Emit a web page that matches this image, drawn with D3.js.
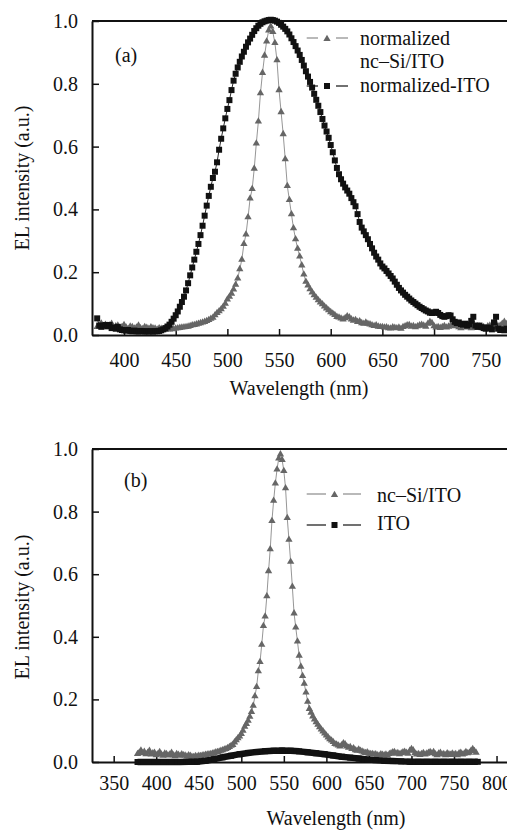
<!DOCTYPE html>
<html>
<head>
<meta charset="utf-8">
<script src="https://cdn.jsdelivr.net/npm/d3@7"></script>
<style>
body{margin:0;background:#fff}
svg text{font-family:"Liberation Serif","Tinos","Times New Roman","DejaVu Serif","Noto Serif",serif;fill:#111}
</style>
</head>
<body>
<svg id="chart" width="507" height="831"></svg>
<script>
// wavelength grid
var wavelengthA = [374,376,378,380,382,384,386,388,390,392,394,396,398,
  400,402,404,406,408,410,412,414,416,418,420,422,424,426,428,430,432,434,436,438,440,442,444,446,448,
  450,452,454,456,458,460,462,464,466,468,470,472,474,476,478,480,482,484,486,488,490,492,494,496,498,
  500,502,504,506,508,510,512,514,516,518,520,522,524,526,528,530,532,534,536,538,540,542,544,546,548,
  550,552,554,556,558,560,562,564,566,568,570,572,574,576,578,580,582,584,586,588,590,592,594,596,598,
  600,602,604,606,608,610,612,614,616,618,620,622,624,626,628,630,632,634,636,638,640,642,644,646,648,
  650,652,654,656,658,660,662,664,666,668,670,672,674,676,678,680,682,684,686,688,690,692,694,696,698,
  700,702,704,706,708,710,712,714,716,718,720,722,724,726,728,730,732,734,736,738,740,742,744,746,748,
  750,752,754,756,758,760,762,764,766,768,770,772];
// same spectrum
var wavelengthB = [378,380,382,384,386,388,390,392,394,396,398,
  400,402,404,406,408,410,412,414,416,418,420,422,424,426,428,430,432,434,436,438,440,442,444,446,448,
  450,452,454,456,458,460,462,464,466,468,470,472,474,476,478,480,482,484,486,488,490,492,494,496,498,
  500,502,504,506,508,510,512,514,516,518,520,522,524,526,528,530,532,534,536,538,540,542,544,546,548,
  550,552,554,556,558,560,562,564,566,568,570,572,574,576,578,580,582,584,586,588,590,592,594,596,598,
  600,602,604,606,608,610,612,614,616,618,620,622,624,626,628,630,632,634,636,638,640,642,644,646,648,
  650,652,654,656,658,660,662,664,666,668,670,672,674,676,678,680,682,684,686,688,690,692,694,696,698,
  700,702,704,706,708,710,712,714,716,718,720,722,724,726,728,730,732,734,736,738,740,742,744,746,748,
  750,752,754,756,758,760,762,764,766,768,770,772,774,776];

var ncSi = [0.026,0.030,0.037,0.028,0.033,0.025,0.030,0.036,0.024,0.028,0.030,0.022,0.026,
  0.032,0.024,0.020,0.027,0.026,0.021,0.024,0.030,0.022,0.019,0.026,0.023,0.020,0.025,0.022,0.021,0.018,0.022,0.020,0.017,0.016,0.019,0.018,0.020,0.019,
  0.021,0.022,0.023,0.024,0.025,0.026,0.027,0.029,0.031,0.032,0.034,0.036,0.038,0.040,0.042,0.045,0.048,0.052,0.055,0.063,0.070,0.076,0.082,0.090,0.100,
  0.113,0.122,0.132,0.145,0.160,0.180,0.210,0.240,0.290,0.320,0.375,0.435,0.465,0.530,0.610,0.680,0.770,0.835,0.890,0.935,0.970,0.983,0.965,0.930,0.875,
  0.780,0.710,0.640,0.560,0.475,0.430,0.385,0.340,0.305,0.275,0.250,0.222,0.193,0.170,0.158,0.146,0.136,0.127,0.119,0.111,0.104,0.098,0.091,0.085,0.079,
  0.073,0.069,0.064,0.058,0.056,0.053,0.050,0.054,0.060,0.057,0.050,0.046,0.048,0.042,0.044,0.038,0.036,0.040,0.036,0.034,0.031,0.029,0.031,0.027,0.026,
  0.026,0.024,0.025,0.022,0.021,0.025,0.023,0.022,0.024,0.020,0.026,0.028,0.031,0.032,0.027,0.029,0.025,0.028,0.031,0.033,0.030,0.027,0.036,0.042,0.038,
  0.028,0.024,0.026,0.023,0.026,0.029,0.024,0.027,0.030,0.032,0.028,0.032,0.025,0.022,0.027,0.030,0.024,0.026,0.022,0.028,0.025,0.023,0.027,0.024,0.026,
  0.022,0.028,0.030,0.024,0.027,0.032,0.028,0.030,0.036,0.042,0.035,0.030];

var itoNormalized = [0.053,0.030,0.026,0.030,0.032,0.028,0.032,0.022,0.024,0.020,0.026,0.018,0.016,
  0.015,0.014,0.016,0.013,0.012,0.014,0.012,0.011,0.013,0.012,0.011,0.012,0.011,0.012,0.011,0.012,0.012,0.013,0.015,0.018,0.022,0.027,0.033,0.042,0.052,
  0.063,0.075,0.090,0.105,0.122,0.142,0.165,0.190,0.215,0.240,0.265,0.290,0.318,0.348,0.380,0.412,0.443,0.472,0.500,0.520,0.550,0.590,0.625,0.658,0.690,
  0.720,0.748,0.780,0.810,0.832,0.852,0.870,0.887,0.902,0.918,0.932,0.944,0.956,0.968,0.977,0.985,0.991,0.996,0.999,1.001,1.003,1.004,1.003,1.001,0.998,
  0.994,0.988,0.982,0.975,0.967,0.957,0.945,0.933,0.920,0.906,0.892,0.876,0.858,0.840,0.823,0.806,0.788,0.768,0.749,0.730,0.710,0.688,0.667,0.648,0.628,
  0.605,0.582,0.556,0.532,0.512,0.496,0.482,0.470,0.460,0.450,0.436,0.423,0.410,0.385,0.360,0.342,0.330,0.318,0.305,0.290,0.276,0.262,0.250,0.240,0.228,
  0.218,0.212,0.204,0.196,0.188,0.180,0.170,0.160,0.150,0.142,0.135,0.128,0.122,0.116,0.110,0.105,0.100,0.095,0.090,0.086,0.082,0.078,0.075,0.071,0.070,
  0.072,0.074,0.070,0.064,0.060,0.058,0.060,0.063,0.062,0.050,0.042,0.038,0.040,0.035,0.033,0.036,0.030,0.034,0.045,0.058,0.030,0.026,0.030,0.025,0.022,
  0.020,0.024,0.022,0.018,0.040,0.058,0.020,0.016,0.018,0.015,0.020,0.018];

// ITO (not normalized), panel (b)
var itoWavelength = [378,388,398,408,418,428,438,448,458,468,478,488,498,508,518,528,538,548,558,568,
  578,588,598,608,618,628,638,648,658,668,678,688,698,708,718,728,738,748,758,768,778];
var itoIntensity = [0,0,0,0,0,0,0.0005,0.001,0.004,0.009,0.015,0.020,0.025,0.029,0.032,0.0345,0.036,0.0365,0.036,0.034,
  0.031,0.028,0.025,0.021,0.017,0.014,0.011,0.008,0.006,0.004,0.003,0.002,0.001,0.0005,0.0005,0.0005,0.0005,0.0005,0.0005,0.0005,0.0005];

var xTicksA = [400,450,500,550,600,650,700,750];
var xTicksB = [350,400,450,500,550,600,650,700,750,800];
var yTicks = [0,0.2,0.4,0.6,0.8,1.0];

var serif = '"Liberation Serif","Tinos","Times New Roman","DejaVu Serif","Noto Serif",serif';
var svg = d3.select("#chart").attr("font-family", serif);
var grayLine = "#8a8a8a", grayMark = "#666", black = "#111";
var triangle = d3.symbol().type(d3.symbolTriangle).size(23);
var square = d3.symbol().type(d3.symbolSquare).size(36);

function pairs(xs, ys){
    var n = Math.min(xs.length, ys.length);
    var out = [];
    for(var i = 0; i < n; i++){
        out.push({x: xs[i], y: ys[i]});
    }
    return out;
}

function label(g, x, y, txt){
    return g.append("text").attr("x",x).attr("y",y)
        .attr("font-family",serif).attr("font-size",20).attr("fill",black).text(txt);
}

function drawSeries(g, x, y, pts, opt){
    var line = d3.line().x(function(d){return x(d.x)}).y(function(d){return y(d.y)});
    g.append("path")
        .attr("d", line(pts))
        .attr("fill","none")
        .attr("stroke", opt.lineColor)
        .attr("stroke-width", opt.lineWidth)
        .attr("stroke-linejoin","round");
    g.selectAll(null)
        .data(pts)
        .enter().append("path")
        .attr("d", opt.symbol)
        .attr("transform", function(d){return "translate(" + x(d.x) + "," + y(d.y) + ")"})
        .attr("fill", opt.markColor);
}

function legendRow(g, x0, x1, x2, x3, cy, opt){
    g.append("line").attr("x1",x0).attr("x2",x1).attr("y1",cy).attr("y2",cy)
        .attr("stroke",opt.lineColor).attr("stroke-width",1.2);
    g.append("line").attr("x1",x2).attr("x2",x3).attr("y1",cy).attr("y2",cy)
        .attr("stroke",opt.lineColor).attr("stroke-width",1.2);
    g.append("path").attr("d",opt.symbol)
        .attr("transform","translate(" + ((x1 + x2) / 2) + "," + (cy + (opt.dy || 0)) + ")")
        .attr("fill",opt.markColor);
}

function drawPanel(p){
    var x = d3.scaleLinear().domain(p.xDomain).range([92, 507]);
    var y = d3.scaleLinear().domain([0, 1]).range([p.bottom, p.top]);
    var g = svg.append("g");

    g.append("line").attr("x1",92).attr("x2",507).attr("y1",p.top).attr("y2",p.top)
        .attr("stroke",black).attr("stroke-width",2);

    var yAxis = d3.axisLeft(y).tickValues(yTicks).tickFormat(d3.format(".1f"))
        .tickSizeInner(-7).tickSizeOuter(0).tickPadding(14);
    var ya = g.append("g").attr("transform","translate(92,0)").call(yAxis);
    var xAxis = d3.axisBottom(x).tickValues(p.xTicks).tickFormat(d3.format("d"))
        .tickSizeInner(-6).tickSizeOuter(0).tickPadding(p.xPad);
    var xa = g.append("g").attr("transform","translate(0," + p.bottom + ")").call(xAxis);
    [ya, xa].forEach(function(a){
        a.attr("font-family", serif).attr("font-size", 20);
        a.select(".domain").attr("stroke",black).attr("stroke-width",2);
        a.selectAll(".tick line").attr("stroke",black).attr("stroke-width",1.5);
        a.selectAll("text").attr("fill",black);
    });

    var plot = g.append("g");
    p.draw(plot, x, y);

    label(g, p.tagX, p.tagY, p.tag);
    label(g, p.xTitleX, p.xTitleY, "Wavelength (nm)").attr("text-anchor","middle");
    label(g, 0, 0, "EL intensity (a.u.)")
        .attr("transform","translate(29," + p.yTitleY + ") rotate(-90)")
        .attr("text-anchor","middle");
    p.legend(g);
}

var triOpt = {lineColor: grayLine, lineWidth: 0.9, markColor: grayMark, symbol: triangle, dy: 1};
var sqOpt = {lineColor: black, lineWidth: 0.9, markColor: black, symbol: square};

drawPanel({
    xDomain: [369, 770.6], top: 21, bottom: 335, xTicks: xTicksA, xPad: 18,
    tag: "(a)", tagX: 115, tagY: 62, xTitleX: 299, xTitleY: 395, yTitleY: 178,
    draw: function(g, x, y){
        drawSeries(g, x, y, pairs(wavelengthA, ncSi), triOpt);
        drawSeries(g, x, y, pairs(wavelengthA, itoNormalized), sqOpt);
    },
    legend: function(g){
        legendRow(g, 306.7, 318, 336, 348, 38, triOpt);
        label(g, 360, 45, "normalized");
        label(g, 360, 68, "nc\u2013Si/ITO");
        legendRow(g, 306.7, 318, 336, 348, 86, sqOpt);
        label(g, 360, 92, "normalized-ITO");
    }
});

drawPanel({
    xDomain: [324.5, 812.3], top: 449, bottom: 762, xTicks: xTicksB, xPad: 14,
    tag: "(b)", tagX: 124, tagY: 487, xTitleX: 336, xTitleY: 825, yTitleY: 607,
    draw: function(g, x, y){
        drawSeries(g, x, y, pairs(wavelengthB, ncSi), triOpt);
        drawSeries(g, x, y, pairs(itoWavelength, itoIntensity),
            {lineColor: black, lineWidth: 6.5, markColor: black, symbol: square});
    },
    legend: function(g){
        legendRow(g, 306.7, 326, 343, 361, 494, triOpt);
        label(g, 377, 502, "nc\u2013Si/ITO");
        legendRow(g, 306.7, 326, 343, 361, 525, sqOpt);
        label(g, 377, 530, "ITO");
    }
});
</script>
</body>
</html>
